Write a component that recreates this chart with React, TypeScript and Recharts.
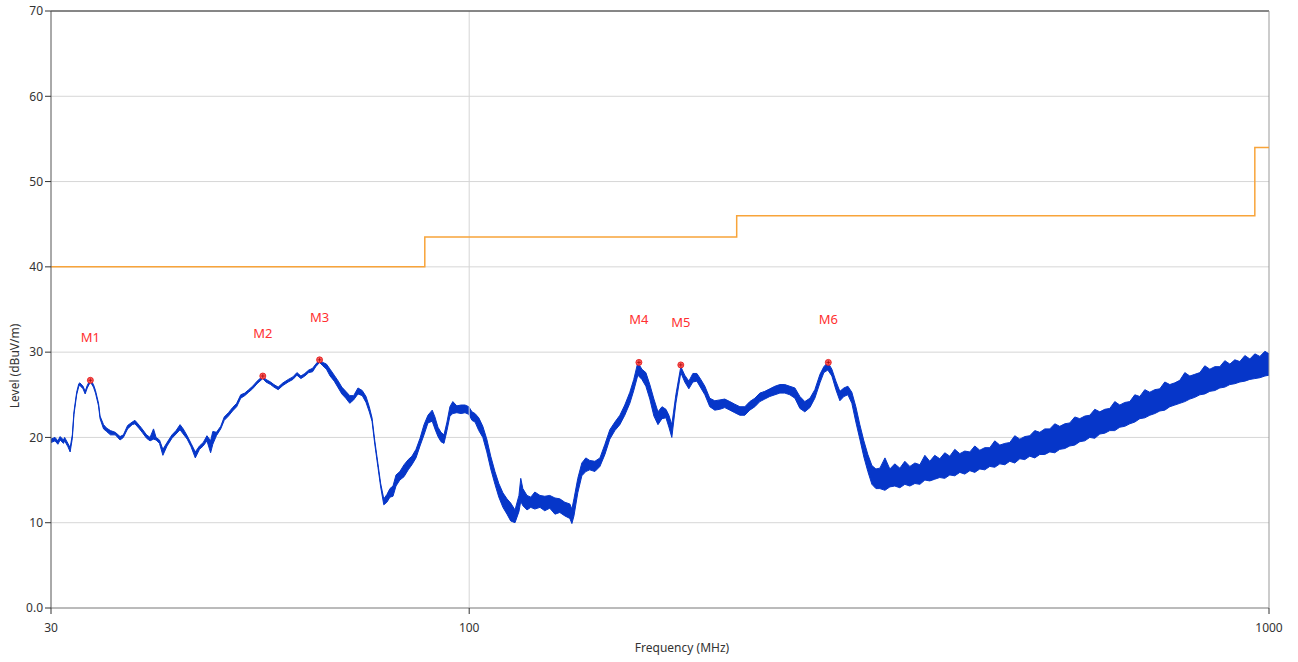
import {
  ComposedChart,
  Area,
  Line,
  Scatter,
  XAxis,
  YAxis,
  CartesianGrid,
  ReferenceLine,
} from 'recharts';

// measured trace (MHz) with the low / high edge of the noise band (dBuV/m)
const traceFreq = [
  30.0, 30.35, 30.6, 30.8, 31.1, 31.2, 31.5, 31.7, 31.9, 32.05,
  32.3, 32.5, 32.6, 32.9, 33.1, 33.3, 33.6, 33.9, 34.1, 34.4,
  34.55, 34.9, 35.2, 35.6, 36.1, 36.6, 36.95, 37.4, 37.9, 38.2,
  38.7, 39.0, 39.5, 39.9, 40.3, 40.6, 41.0, 41.4, 41.9, 42.5,
  43.0, 43.5, 43.9, 44.4, 44.9, 45.45, 46.0, 46.5, 47.0, 47.5,
  47.8, 48.3, 48.9, 49.4, 50.0, 50.6, 51.2, 51.8, 52.4, 53.0,
  53.6, 54.3, 55.2, 55.7, 56.45, 57.0, 57.7, 58.5, 59.4, 60.2,
  60.9, 61.6, 62.3, 63.0, 63.7, 64.3, 65.0, 65.6, 66.3, 67.0,
  67.8, 68.6, 69.3, 70.1, 70.9, 71.7, 72.6, 73.5, 74.3, 75.0,
  75.6, 76.2, 76.9, 77.5, 78.2, 78.9, 79.6, 80.3, 81.0, 81.9,
  82.9, 83.9, 84.8, 85.8, 86.8, 87.8, 88.8, 89.9, 90.6, 91.4,
  92.2, 93.0, 93.8, 94.6, 95.4, 96.5, 97.7, 98.8, 99.9, 100.8,
  101.7, 102.8, 104.0, 105.2, 106.4, 107.7, 108.9, 110.2, 111.5, 112.7,
  114.1, 115.4, 116.0, 116.7, 118.1, 119.4, 120.8, 122.6, 124.3, 126.1,
  128.0, 129.8, 131.7, 133.6, 134.4, 135.2, 136.7, 138.3, 139.9, 141.5,
  143.6, 145.7, 147.8, 149.9, 152.1, 154.3, 156.5, 158.8, 160.6, 162.5,
  164.4, 166.3, 168.2, 170.2, 172.2, 174.2, 176.2, 177.7, 179.2, 181.3,
  183.9, 186.0, 188.2, 190.4, 192.6, 194.8, 197.1, 199.9, 202.8, 205.8,
  208.7, 211.8, 214.8, 218.0, 221.1, 224.3, 227.6, 230.9, 234.2, 237.6,
  241.1, 244.6, 248.1, 251.7, 255.4, 259.1, 262.8, 266.7, 270.5, 274.5,
  277.6, 280.8, 284.1, 287.4, 290.7, 294.1, 297.5, 300.9, 304.4, 307.9,
  311.5, 315.1, 318.8, 322.5, 326.2, 331.0, 335.7, 340.5, 345.5, 350.5,
  355.6, 360.8, 366.0, 371.3, 376.6, 382.0, 387.6, 393.2, 398.9, 404.7,
  410.6, 416.5, 422.6, 428.7, 434.9, 441.2, 447.6, 454.1, 460.7, 467.4,
  474.1, 481.0, 488.0, 495.1, 502.2, 509.5, 516.9, 524.4, 532.0, 539.7,
  547.5, 555.5, 563.5, 571.7, 580.0, 588.4, 596.9, 605.6, 614.4, 623.3,
  632.3, 641.5, 650.8, 660.2, 669.8, 679.5, 689.4, 699.4, 709.5, 719.8,
  730.3, 740.8, 751.6, 762.5, 773.6, 784.8, 796.2, 807.7, 819.4, 831.3,
  843.4, 855.6, 868.0, 880.6, 893.4, 906.3, 919.5, 932.9, 946.4, 960.1,
  974.1, 988.2, 1000,
];

const traceLo = [
  19.4, 19.6, 19.2, 19.7, 19.3, 19.6, 18.9, 18.3, 19.9, 22.7,
  25.0, 26.0, 26.1, 25.7, 25.1, 25.8, 26.5, 25.9, 25.2, 23.7,
  22.2, 21.0, 20.7, 20.3, 20.3, 19.7, 20.0, 21.0, 21.5, 21.6,
  21.0, 20.6, 19.9, 19.6, 19.8, 19.7, 19.3, 17.9, 19.0, 19.9,
  20.4, 20.9, 20.4, 19.8, 18.9, 17.6, 18.6, 19.0, 19.6, 18.2,
  19.2, 20.2, 21.0, 22.0, 22.5, 23.1, 23.6, 24.6, 24.9, 25.3,
  25.7, 26.3, 26.9, 26.5, 26.2, 25.9, 25.6, 26.1, 26.5, 26.8,
  27.3, 26.9, 27.2, 27.6, 27.7, 28.3, 28.8, 28.4, 28.0, 27.2,
  26.6, 25.8, 25.1, 24.6, 24.0, 24.4, 25.1, 24.9, 24.1, 23.0,
  21.9, 19.2, 16.5, 14.2, 12.1, 12.4, 13.0, 13.1, 14.3, 15.0,
  15.4, 16.2, 16.8, 17.6, 19.0, 20.3, 21.7, 21.9, 21.0, 20.1,
  19.5, 19.3, 20.8, 22.5, 22.8, 22.9, 22.8, 22.9, 22.7, 22.0,
  21.8, 20.8, 20.0, 18.3, 16.3, 14.5, 13.0, 11.8, 11.0, 10.2,
  10.0, 11.3, 12.5, 12.0, 11.5, 11.8, 11.6, 11.8, 11.4, 11.7,
  11.0, 11.2, 10.8, 10.5, 9.9, 10.8, 13.5, 15.5, 16.0, 16.2,
  16.0, 16.6, 18.0, 19.8, 20.8, 21.5, 22.6, 24.0, 25.5, 27.3,
  26.8, 26.0, 24.5, 22.5, 21.5, 22.2, 22.3, 21.2, 20.0, 24.0,
  27.6, 26.5, 25.7, 26.5, 26.6, 25.8, 25.0, 23.6, 23.2, 23.3,
  23.5, 23.2, 22.9, 22.6, 22.6, 23.2, 23.6, 24.2, 24.5, 24.8,
  25.0, 25.2, 25.2, 25.0, 24.6, 23.4, 23.0, 23.5, 24.6, 26.4,
  27.6, 27.9, 27.2, 25.6, 24.3, 24.8, 25.0, 24.0, 21.8, 19.8,
  17.7, 16.0, 14.5, 14.0, 14.0, 13.8, 14.2, 14.3, 14.1, 14.5,
  14.3, 14.6, 14.5, 15.0, 14.9, 15.1, 15.3, 15.2, 15.6, 15.5,
  15.9, 15.7, 16.1, 15.9, 16.3, 16.2, 16.6, 16.5, 16.9, 16.8,
  17.2, 17.0, 17.5, 17.4, 17.8, 17.6, 18.0, 18.0, 18.3, 18.2,
  18.6, 18.7, 19.0, 19.1, 19.5, 19.6, 20.0, 19.9, 20.4, 20.5,
  20.8, 20.8, 21.2, 21.3, 21.6, 21.8, 22.2, 22.3, 22.6, 22.8,
  23.1, 23.2, 23.6, 23.8, 24.0, 24.2, 24.5, 24.7, 25.0, 25.1,
  25.4, 25.5, 25.8, 25.9, 26.2, 26.3, 26.5, 26.6, 26.8, 26.9,
  27.0, 27.2, 27.3,
];

const traceHi = [
  19.8, 20.0, 19.6, 20.1, 19.7, 20.0, 19.3, 18.8, 20.3, 23.0,
  25.3, 26.3, 26.4, 26.0, 25.4, 26.1, 26.8, 26.2, 25.5, 24.0,
  22.5, 21.5, 21.1, 20.8, 20.6, 20.1, 20.3, 21.4, 21.8, 22.0,
  21.4, 21.0, 20.3, 20.0, 21.0, 20.0, 19.7, 18.6, 19.4, 20.3,
  20.8, 21.5, 21.0, 20.2, 19.3, 18.3, 19.0, 19.4, 20.2, 19.6,
  20.7, 20.6, 21.3, 22.4, 22.9, 23.5, 24.0, 25.0, 25.2, 25.6,
  26.0, 26.6, 27.2, 26.8, 26.5, 26.2, 25.9, 26.4, 26.8, 27.1,
  27.6, 27.2, 27.5, 27.9, 28.1, 28.6, 29.1, 28.8, 28.6, 28.0,
  27.3, 26.6, 25.9, 25.4, 24.9, 24.9, 25.8, 25.5, 24.8, 23.6,
  22.3, 19.6, 16.9, 14.6, 12.8, 13.3, 14.0, 14.3, 15.6, 16.0,
  16.8, 17.4, 17.8, 18.6, 19.9, 21.5, 22.6, 23.2, 22.4, 21.2,
  20.6, 20.3, 21.8, 23.6, 24.2, 23.7, 23.8, 23.8, 23.6, 23.0,
  22.8, 22.3, 21.3, 19.8, 17.8, 16.0, 14.6, 13.5, 12.8, 12.3,
  11.5, 13.2, 15.2, 14.0, 13.2, 13.0, 13.6, 13.2, 13.1, 13.2,
  12.9, 12.8, 12.4, 12.2, 11.6, 12.8, 15.2, 17.0, 17.6, 17.3,
  17.2, 17.6, 19.2, 20.9, 21.8, 22.6, 23.8, 25.3, 26.8, 28.8,
  28.0, 27.6, 26.2, 24.5, 23.0, 23.6, 23.3, 22.6, 21.5, 25.0,
  28.3, 27.3, 26.6, 27.5, 27.5, 26.8, 26.0, 24.6, 24.3, 24.4,
  24.5, 24.2, 23.9, 23.6, 23.6, 24.2, 24.6, 25.2, 25.4, 25.7,
  26.0, 26.2, 26.2, 26.0, 25.8, 24.8, 24.2, 24.6, 25.6, 27.4,
  28.3, 28.8, 28.0, 26.6, 25.4, 25.8, 26.0, 25.3, 23.6, 21.5,
  19.6, 18.0, 16.7, 16.3, 16.4, 17.6, 16.3, 16.9, 16.4, 17.2,
  16.6, 17.0, 16.8, 17.9, 17.2, 17.9, 17.5, 18.2, 17.8, 18.6,
  18.1, 18.4, 18.3, 19.0, 18.5, 18.8, 18.8, 19.6, 19.1, 19.3,
  19.4, 20.2, 19.8, 20.1, 20.2, 20.8, 20.6, 21.0, 21.0, 21.6,
  21.3, 21.6, 21.7, 22.4, 22.2, 22.5, 22.6, 23.3, 23.0, 23.3,
  23.4, 24.2, 23.8, 24.1, 24.2, 25.0, 24.8, 25.6, 25.3, 25.6,
  25.7, 26.5, 26.2, 26.4, 26.7, 27.6, 27.2, 27.4, 27.6, 28.4,
  28.0, 28.3, 28.3, 29.0, 28.6, 29.1, 28.9, 29.6, 29.2, 29.8,
  29.5, 30.1, 29.8,
];

// limit line (step after each corner)
const limitFreq = [30, 88, 216, 960, 1000];
const limitLevel = [40, 43.5, 46, 54, 54];

const markerNames = ['M1', 'M2', 'M3', 'M4', 'M5', 'M6'];
const markerFreq = [33.6, 55.2, 65.0, 163.0, 183.9, 281.2];
const markerLevel = [26.7, 27.2, 29.1, 28.8, 28.5, 28.8];

const xTicks = [30, 100, 1000];
const yTicks = [0, 10, 20, 30, 40, 50, 60, 70];

const traceData = traceFreq.map((f, i) => ({ f, band: [traceLo[i], traceHi[i]] }));
const limitData = limitFreq.map((f, i) => ({ f, level: limitLevel[i] }));
const markerData = markerFreq.map((f, i) => ({ f, level: markerLevel[i], name: markerNames[i] }));

const FONT = '"Segoe UI", "Noto Sans", sans-serif';

function MarkerShape(props: any) {
  const { cx, cy, payload } = props;
  return (
    <g>
      <circle cx={cx} cy={cy} r={3} fill="#ff6060" stroke="#e01010" strokeWidth={0.8} />
      <line x1={cx - 2} y1={cy} x2={cx + 2} y2={cy} stroke="#a00000" strokeWidth={0.7} />
      <line x1={cx} y1={cy - 2} x2={cx} y2={cy + 2} stroke="#a00000" strokeWidth={0.7} />
      <text x={cx} y={cy - 38} textAnchor="middle" fill="#ff3030" fontSize={13} fontFamily={FONT}>
        {payload.name}
      </text>
    </g>
  );
}

export default function App() {
  return (
    <div style={{ position: 'absolute', left: 0, top: 0, background: '#fff' }}>
      <ComposedChart
        width={1298}
        height={662}
        margin={{ top: 11, right: 29, bottom: 0, left: 0 }}
      >
        <CartesianGrid vertical={false} stroke="#d6d6d6" />
        <XAxis
          dataKey="f"
          type="number"
          scale="log"
          domain={[30, 1000]}
          allowDataOverflow
          ticks={xTicks}
          height={54}
          stroke="#8a8a8a"
          tickLine={{ stroke: '#333' }}
          tick={{ fill: '#333', fontSize: 12, fontFamily: FONT }}
          tickMargin={9}
          label={{
            content: () => (
              <text x={682} y={652} textAnchor="middle" fill="#333" fontSize={12} fontFamily={FONT}>
                Frequency (MHz)
              </text>
            ),
          }}
        />
        <YAxis
          type="number"
          domain={[0, 70]}
          ticks={yTicks}
          width={51}
          stroke="#555"
          tickLine={{ stroke: '#333' }}
          tick={{ fill: '#333', fontSize: 12, fontFamily: FONT }}
          tickFormatter={(v: number) => (v === 0 ? '0.0' : String(v))}
          label={{
            content: () => (
              <text
                x={19}
                y={366}
                transform="rotate(-90 19 366)"
                textAnchor="middle"
                fill="#333"
                fontSize={12}
                fontFamily={FONT}
              >
                Level (dBuV/m)
              </text>
            ),
          }}
        />
        <ReferenceLine x={100} stroke="#d6d6d6" />
        <ReferenceLine y={70} stroke="#222" />
        <ReferenceLine x={1000} stroke="#999" />
        <Area
          data={traceData}
          dataKey="band"
          type="linear"
          stroke="#0636c9"
          strokeWidth={1}
          fill="#0636c9"
          fillOpacity={1}
          dot={false}
          activeDot={false}
          isAnimationActive={false}
        />
        <Line
          data={limitData}
          dataKey="level"
          type="stepAfter"
          stroke="#f8a43a"
          strokeWidth={1.5}
          dot={false}
          activeDot={false}
          isAnimationActive={false}
        />
        <Scatter
          data={markerData}
          dataKey="level"
          shape={MarkerShape}
          isAnimationActive={false}
        />
      </ComposedChart>
    </div>
  );
}
